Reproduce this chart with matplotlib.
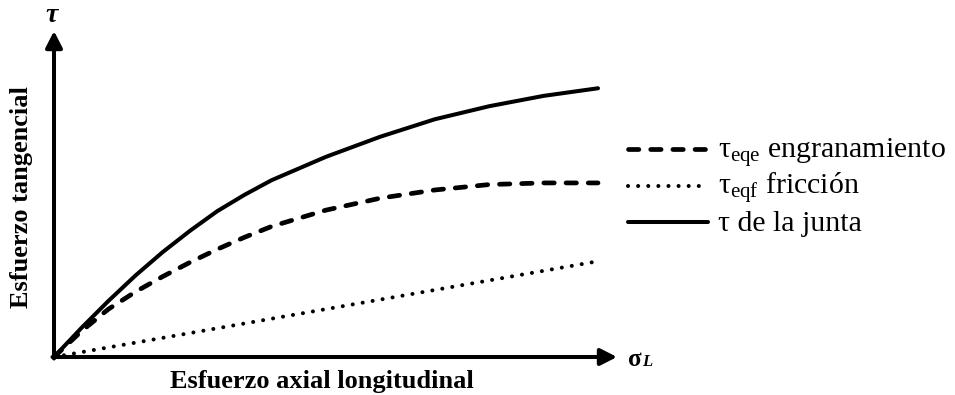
import matplotlib
matplotlib.use('Agg')
import matplotlib.pyplot as plt
from matplotlib.lines import Line2D

# curve readings, both axes in the same arbitrary units
x_vals = [0, 0.5, 1.0, 1.5, 2.0, 2.5, 3.0, 3.5, 4.0, 5.0, 6.0, 7.0, 8.0, 9.0, 10.0]
tau_junta = [0, 0.53, 1.03, 1.50, 1.93, 2.32, 2.68, 2.98, 3.25, 3.68, 4.05, 4.37, 4.61, 4.80, 4.94]
tau_eqe = [0, 0.47, 0.88, 1.20, 1.48, 1.74, 1.98, 2.20, 2.40, 2.70, 2.92, 3.07, 3.17, 3.20, 3.20]
fric_x = [0, 10]
tau_eqf = [0, 1.76]

legend_labels = [r'τ$_{\mathrm{eqe}}$ engranamiento', r'τ$_{\mathrm{eqf}}$ fricción', 'τ de la junta']
x_label = 'Esfuerzo axial longitudinal'
y_label = 'Esfuerzo tangencial'

plt.rcParams['font.family'] = ['Liberation Serif', 'DejaVu Serif']
plt.rcParams['mathtext.fontset'] = 'custom'
plt.rcParams['mathtext.rm'] = 'Liberation Serif'
plt.rcParams['mathtext.it'] = 'Liberation Serif:italic'
plt.rcParams['mathtext.bf'] = 'Liberation Serif:bold'

W, H = 955, 395
S = 54.4          # pixels per data unit
X0, Y0 = 54, 357  # origin in pixels


def px(x, y):
    # pixel position -> data position
    return (x - X0) / S, (Y0 - y) / S


fig = plt.figure(figsize=(W / 100, H / 100), dpi=100)
ax = fig.add_axes([0, 0, 1, 1])
ax.set_xlim(-X0 / S, (W - X0) / S)
ax.set_ylim((Y0 - H) / S, Y0 / S)
ax.axis('off')

styles = [
    dict(color='black', lw=3.4, linestyle=(0, (2.2, 2.5)), dash_capstyle='round'),
    dict(color='black', lw=2.9, linestyle=(0, (0.01, 2.5)), dash_capstyle='round'),
    dict(color='black', lw=2.9, linestyle='-', solid_capstyle='round', solid_joinstyle='round'),
]

ax.plot(x_vals, tau_eqe, **styles[0])
ax.plot(fric_x, tau_eqf, **styles[1])
ax.plot(x_vals, tau_junta, **styles[2])

# axes with arrows
arrow = dict(arrowstyle='-|>,head_length=0.55,head_width=0.28', lw=2.9, color='black',
             shrinkA=0, shrinkB=0, mutation_scale=18)
ax.annotate('', xy=px(X0, 31), xytext=px(X0, Y0 + 1.5), arrowprops=arrow)
ax.annotate('', xy=px(617, Y0), xytext=px(X0 - 1.5, Y0), arrowprops=arrow)

ax.text(*px(52, 22), 'τ', fontsize=20, fontweight='bold', fontstyle='italic',
        ha='center', va='baseline')
ax.text(*px(628, 366), 'σ', fontsize=18, fontweight='bold', ha='left', va='baseline')
ax.text(*px(642, 366), 'L', fontsize=12, fontweight='bold', fontstyle='italic',
        ha='left', va='baseline')

ax.text(*px(170, 388), x_label, fontsize=19, fontweight='bold', ha='left', va='baseline')
ax.text(*px(22, 197), y_label, fontsize=19, fontweight='bold', rotation=90,
        ha='center', va='center')

# legend drawn by hand
rows = [149, 186, 222]
for st, lab, y in zip(styles, legend_labels, rows):
    fig.add_artist(Line2D([628 / W, 708 / W], [1 - y / H] * 2, **st))
    fig.text(718 / W, 1 - (y + 9) / H, lab, fontsize=21.5, ha='left', va='baseline')

fig.savefig('out.png', dpi=100)
